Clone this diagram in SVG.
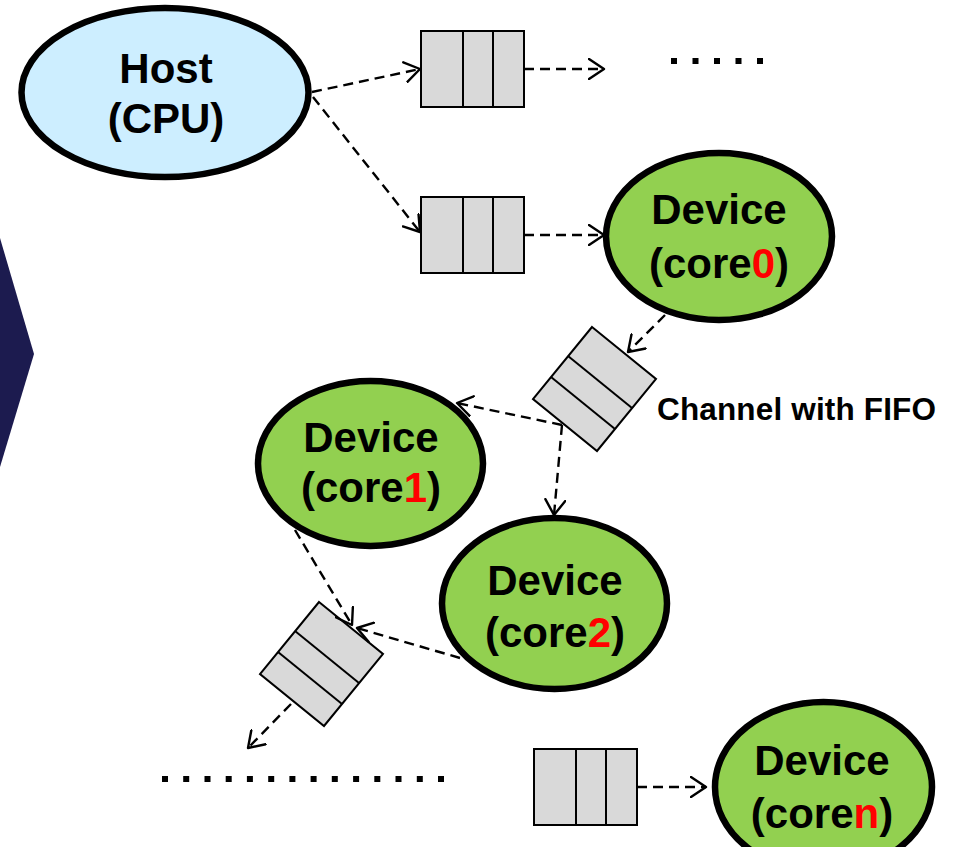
<svg xmlns="http://www.w3.org/2000/svg" xmlns:xlink="http://www.w3.org/1999/xlink" width="953" height="847" viewBox="0 0 953 847">
  <style>
    .ell { stroke:#000; stroke-width:6.5; }
    .host { fill:#cdeeff; }
    .dev { fill:#92d050; }
    .lbl { font-family:"Liberation Sans", Arial, sans-serif; font-weight:bold; font-size:42px; text-anchor:middle; fill:#000; }
    .note { font-family:"Liberation Sans", Arial, sans-serif; font-weight:bold; font-size:31.5px; fill:#000; }
    .red { fill:#ff0000; }
    .box { fill:#d9d9d9; stroke:#000; stroke-width:2; }
    .div { fill:none; stroke:#000; stroke-width:2; }
    .conn { fill:none; stroke:#000; stroke-width:2.4; stroke-dasharray:10 6; marker-end:url(#arr); }
    .dot { fill:#000; }
  </style>
  <defs>
    <marker id="arr" viewBox="0 0 18 22" refX="16" refY="11" markerWidth="18" markerHeight="22" markerUnits="userSpaceOnUse" orient="auto">
      <path d="M1,1 L16,11 L1,21" fill="none" stroke="#000" stroke-width="2.4" stroke-dasharray="none" stroke-linejoin="round" stroke-linecap="round"/>
    </marker>
    <g id="fifoH">
      <rect class="box" x="0" y="0" width="103" height="76"/>
      <line class="div" x1="42" y1="0" x2="42" y2="76"/>
      <line class="div" x1="72" y1="0" x2="72" y2="76"/>
    </g>
    <g id="fifoR">
      <polygon class="box" points="0,0 64,52 5,124 -59,72"/>
      <line class="div" x1="-24" y1="29" x2="40" y2="81"/>
      <line class="div" x1="-41" y1="50" x2="23" y2="102"/>
    </g>
  </defs>

  <rect x="0" y="0" width="953" height="847" fill="#ffffff"/>

  <polygon id="chevron" points="0,238 34,354 0,467" fill="#1c1b4f"/>

  <g id="host">
    <ellipse class="ell host" cx="165" cy="92.5" rx="143.5" ry="84.5"/>
    <text class="lbl" x="166" y="83">Host</text>
    <text class="lbl" x="166" y="133">(CPU)</text>
  </g>

  <g id="core0">
    <ellipse class="ell dev" cx="719" cy="236.5" rx="113" ry="83.5"/>
    <text class="lbl" x="719" y="224">Device</text>
    <text class="lbl" x="719" y="278">(core<tspan class="red">0</tspan>)</text>
  </g>

  <g id="core1">
    <ellipse class="ell dev" cx="370.5" cy="463.5" rx="112.5" ry="82.5"/>
    <text class="lbl" x="371" y="452">Device</text>
    <text class="lbl" x="371" y="502">(core<tspan class="red">1</tspan>)</text>
  </g>

  <g id="core2">
    <ellipse class="ell dev" cx="554.5" cy="603.5" rx="112.5" ry="85.5"/>
    <text class="lbl" x="555" y="595">Device</text>
    <text class="lbl" x="555" y="647">(core<tspan class="red">2</tspan>)</text>
  </g>

  <g id="coren">
    <ellipse class="ell dev" cx="823.5" cy="787" rx="108.5" ry="85"/>
    <text class="lbl" x="822" y="775">Device</text>
    <text class="lbl" x="822" y="828">(core<tspan class="red">n</tspan>)</text>
  </g>

  <g id="fifo-top"><use xlink:href="#fifoH" href="#fifoH" x="421" y="31"/></g>
  <g id="fifo-core0"><use xlink:href="#fifoH" href="#fifoH" x="421" y="197"/></g>
  <g id="fifo-coren"><use xlink:href="#fifoH" href="#fifoH" x="534" y="749"/></g>
  <g id="fifo-rot1"><use xlink:href="#fifoR" href="#fifoR" transform="translate(592,327)"/></g>
  <g id="fifo-rot2"><use xlink:href="#fifoR" href="#fifoR" transform="translate(319,602)"/></g>

  <g id="label-channel">
    <text class="note" x="657" y="420" textLength="279" lengthAdjust="spacing">Channel with FIFO</text>
  </g>

  <g id="dots-top">
    <rect class="dot" x="671" y="58" width="6" height="6"/>
    <rect class="dot" x="692.5" y="58" width="6" height="6"/>
    <rect class="dot" x="714" y="58" width="6" height="6"/>
    <rect class="dot" x="735.5" y="58" width="6" height="6"/>
    <rect class="dot" x="757" y="58" width="6" height="6"/>
  </g>

  <g id="dots-bottom">
    <rect class="dot" x="162" y="776" width="6" height="6"/>
    <rect class="dot" x="183.2" y="776" width="6" height="6"/>
    <rect class="dot" x="204.5" y="776" width="6" height="6"/>
    <rect class="dot" x="225.7" y="776" width="6" height="6"/>
    <rect class="dot" x="246.9" y="776" width="6" height="6"/>
    <rect class="dot" x="268.2" y="776" width="6" height="6"/>
    <rect class="dot" x="289.4" y="776" width="6" height="6"/>
    <rect class="dot" x="310.6" y="776" width="6" height="6"/>
    <rect class="dot" x="331.8" y="776" width="6" height="6"/>
    <rect class="dot" x="353.1" y="776" width="6" height="6"/>
    <rect class="dot" x="374.3" y="776" width="6" height="6"/>
    <rect class="dot" x="395.5" y="776" width="6" height="6"/>
    <rect class="dot" x="416.8" y="776" width="6" height="6"/>
    <rect class="dot" x="438" y="776" width="6" height="6"/>
  </g>

  <g id="connectors">
    <path class="conn" d="M312,92 L420,69"/>
    <path class="conn" d="M524,69 L604,69"/>
    <path class="conn" d="M313,97 L420,232"/>
    <path class="conn" d="M524,235 L604,235"/>
    <path class="conn" d="M665,315 L628,352"/>
    <path class="conn" d="M562,425 L457,403"/>
    <path class="conn" d="M562,425 L554,515"/>
    <path class="conn" d="M295,530 L352,625"/>
    <path class="conn" d="M460,658 L357,628"/>
    <path class="conn" d="M291,704 L248,748"/>
    <path class="conn" d="M637,787 L706,787"/>
  </g>
</svg>
